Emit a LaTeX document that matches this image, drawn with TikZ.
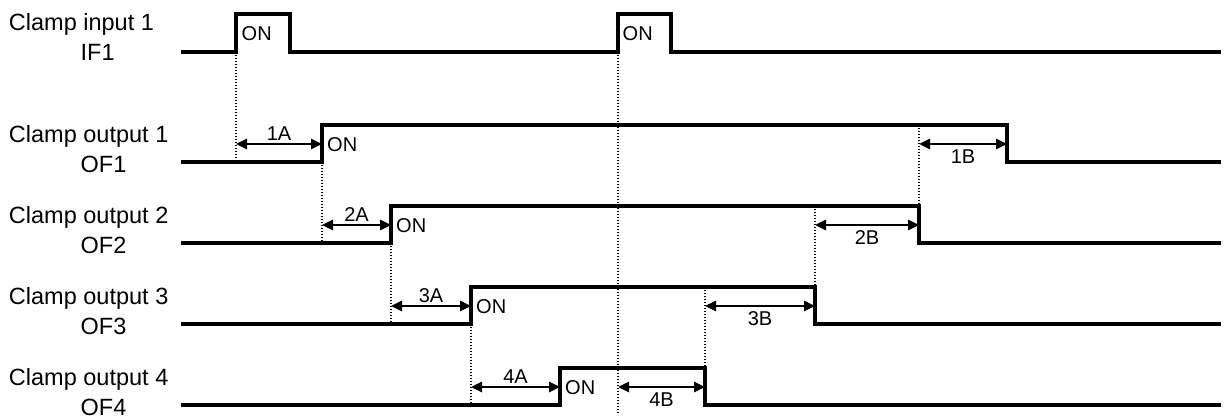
\documentclass[tikz,border=0pt]{standalone}
\usepackage{fontspec}
\setmainfont{Liberation Sans}
\usetikzlibrary{arrows.meta,calc}
\begin{document}
\begin{tikzpicture}[x=1pt,y=-1pt,
  signal/.style={line width=3.5pt, line join=miter},
  guide/.style={line width=1.4pt, dash pattern=on 1.4pt off 1.6pt},
  span/.style={line width=2.6pt, {Triangle[length=11pt,width=10pt]}-{Triangle[length=11pt,width=10pt]}},
  lab/.style={font=\fontsize{23.5}{28}\selectfont, anchor=base west, inner sep=0pt},
  small/.style={font=\fontsize{20}{24}\selectfont, inner sep=0pt},
]
\useasboundingbox (0,0) rectangle (1224,419);

% ---------- guide lines (dotted) ----------
\coordinate (g1a) at (236,52);  \coordinate (g1b) at (236,162);
\coordinate (g2a) at (322,162); \coordinate (g2b) at (322,243);
\coordinate (g3a) at (391,243); \coordinate (g3b) at (391,324);
\coordinate (g4a) at (471,324); \coordinate (g4b) at (471,405);
\coordinate (g5a) at (618,52);  \coordinate (g5b) at (618,415);
\coordinate (g6a) at (919,125); \coordinate (g6b) at (919,206);
\coordinate (g7a) at (815,206); \coordinate (g7b) at (815,287);
\coordinate (g8a) at (705,287); \coordinate (g8b) at (705,368);
\foreach \g in {1,...,8} \draw[guide] (g\g a) -- (g\g b);

% ---------- input IF1 ----------
\node[lab] (Lin) at (8.8,31) {Clamp input 1};
\node[lab] (Lif) at (80.5,60.5) {IF1};
\coordinate (i0) at (181,52);
\coordinate (i1) at (236,52);  \coordinate (i1h) at (236,14);
\coordinate (i2h) at (290,14); \coordinate (i2) at (290,52);
\coordinate (i3) at (618,52);  \coordinate (i3h) at (618,14);
\coordinate (i4h) at (671,14); \coordinate (i4) at (671,52);
\coordinate (i5) at (1221,52);
\draw[signal] (i0) -- (i1) -- (i1h) -- (i2h) -- (i2) -- (i3) -- (i3h) -- (i4h) -- (i4) -- (i5);
\node[small, anchor=base west] (on0a) at (241.5,40.5) {ON};
\node[small, anchor=base west] (on0b) at (622.5,40.5) {ON};

% ---------- outputs OF1..OF4 ----------
\foreach \k/\p/\r/\n/\f/\h [evaluate=\h as \l using \h+37,
                            evaluate=\h as \a using \h+19] in
  {1/236/322/919/1007/125, 2/322/391/815/919/206,
   3/391/471/705/815/287, 4/471/560/618/705/368}{
  \node[lab] (L\k a) at (8.8,\h+17.5) {Clamp output \k};
  \node[lab] (L\k b) at (80.5,\h+47.5) {OF\k};
  \coordinate (s\k0) at (181,\l);
  \coordinate (s\k1) at (\r,\l);
  \coordinate (s\k2) at (\r,\h);
  \coordinate (s\k3) at (\f,\h);
  \coordinate (s\k4) at (\f,\l);
  \coordinate (s\k5) at (1221,\l);
  \draw[signal] (s\k0) -- (s\k1) -- (s\k2) -- (s\k3) -- (s\k4) -- (s\k5);
  \node[small, anchor=base west] (on\k) at (\r+5,\h+27) {ON};
  % A interval
  \coordinate (a\k s) at (\p,\a);
  \coordinate (a\k e) at (\r,\a);
  \draw[span] (a\k s) -- (a\k e);
  \node[small, anchor=base] (ta\k) at ($(a\k s)!0.5!(a\k e)+(0,-3)$) {\k A};
  % B interval
  \coordinate (b\k s) at (\n,\a);
  \coordinate (b\k e) at (\f,\a);
  \draw[span] (b\k s) -- (b\k e);
  \node[small, anchor=base] (tb\k) at ($(b\k s)!0.5!(b\k e)+(0,20)$) {\k B};
}
\end{tikzpicture}
\end{document}
